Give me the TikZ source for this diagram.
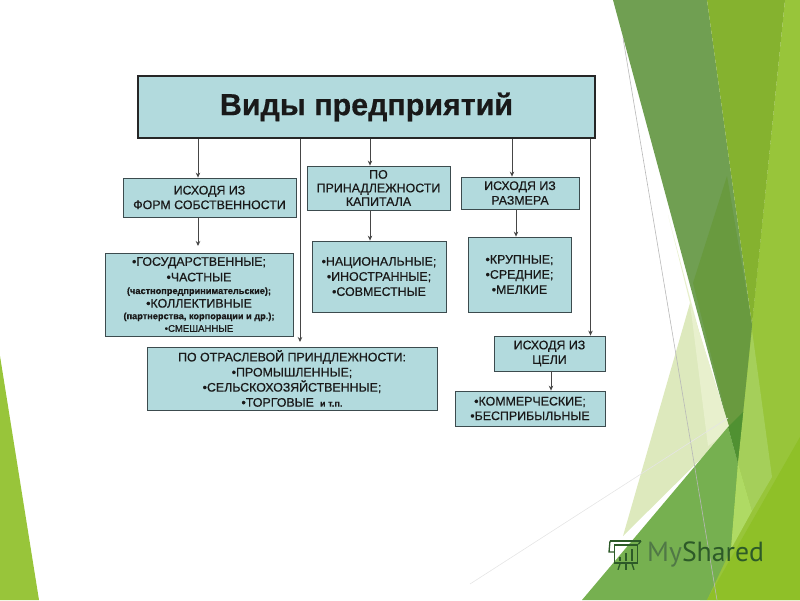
\documentclass[tikz,border=0pt]{standalone}
\usepackage{fontspec}
\setmainfont[AutoFakeBold=0.7]{Liberation Sans}
\newfontfamily\brandfont{PT Sans}
\newfontfamily\heavyfont[FakeBold=0.5]{Liberation Sans}
\usetikzlibrary{arrows.meta}
\definecolor{boxfill}{RGB}{178,218,221}
\definecolor{boxline}{RGB}{60,75,78}
\definecolor{arrline}{RGB}{70,70,70}
\definecolor{leafa}{RGB}{152,197,58}
\definecolor{leafb}{RGB}{133,178,47}
\definecolor{leafc}{RGB}{143,192,40}
\definecolor{leafd}{RGB}{112,159,82}
\definecolor{leafe}{RGB}{105,154,63}
\definecolor{leaff}{RGB}{221,233,189}
\definecolor{leafg}{RGB}{118,176,80}
\definecolor{leafh}{RGB}{165,207,90}
\definecolor{leafi}{RGB}{80,145,50}
\definecolor{leafj}{RGB}{232,240,205}
\definecolor{leafk}{RGB}{175,218,100}
\definecolor{brandlight}{RGB}{80,120,70}
\definecolor{branddark}{RGB}{45,90,40}
\tikzset{
  infobox/.style={draw=boxline, line width=0.8pt, fill=boxfill, align=center, inner sep=0pt, text=black!90,
    font=\heavyfont\fontsize{12.4}{14.6}\selectfont},
  arr/.style={draw=arrline, line width=0.9pt, -{Stealth[length=5pt,width=4.5pt]}},
  logoline/.style={draw=branddark, line width=1.3pt}
}
\newcommand{\smalltextfont}{\fontsize{9.2}{10}\selectfont\bfseries}
\begin{document}
\begin{tikzpicture}[x=1pt,y=-1pt]
    \useasboundingbox (0,0) rectangle (800,600);
    \clip (0,0) rectangle (800,600);

    % Фон
    \fill[leafa] (0,356) -- (39,600) -- (0,600) -- cycle;
    \fill[leafa] (785,0) -- (800,0) -- (800,600) -- (700,600) -- (729,548) -- cycle;
    \fill[leafj] (668,215) -- (712,380) -- (708,446) -- (690,303) -- cycle;
    \fill[leafd] (613,0) -- (707,0) -- (752,325) -- (738,463) -- cycle;
    \fill[leafb] (707,0) -- (785,0) -- (752,325) -- cycle;
    \fill[leafe] (727,176) -- (752,325) -- (738,463) -- (693,283) -- cycle;
    \fill[leaff] (690,303) -- (730,430) -- (623,536) -- cycle;
    \fill[leafj] (690,303) -- (730,430) -- (708,446) -- cycle;
    \fill[leafg] (728,427) -- (738,463) -- (731,549) -- (707,600) -- (582,600) -- cycle;
    \fill[leafi] (728,427) -- (745,410) -- (738,463) -- cycle;
    \fill[leafh] (752,330) -- (772,477) -- (752,511) -- (738,463) -- cycle;
    \fill[leafk] (738,463) -- (752,511) -- (731,549) -- cycle;
    \fill[leafc] (800,437) -- (800,600) -- (707,600) -- cycle;
    \draw[black!28, line width=0.6pt] (623,38) -- (717,600);
    \draw[black!10, line width=0.6pt] (470,584) -- (728,418);

    % Блоки
    \node[infobox, minimum width=457, minimum height=62, line width=1.8pt, draw=black!85] (title) at (366.5,107)
        {\raisebox{-2pt}{\fontsize{30.4}{32}\selectfont\bfseries Виды предприятий}};
    \node[infobox, minimum width=173, minimum height=39] (form) at (209.5,197.5) {ИСХОДЯ ИЗ\\ФОРМ СОБСТВЕННОСТИ};
    \node[infobox, minimum width=143, minimum height=44] (capital) at (378.5,188) {ПО\\[-1pt]ПРИНАДЛЕЖНОСТИ\\[-1pt]КАПИТАЛА};
    \node[infobox, minimum width=118, minimum height=32] (size) at (520,193) {ИСХОДЯ ИЗ\\РАЗМЕРА};
    \node[infobox, minimum width=188, minimum height=83] (formlist) at (199,294.5)
        {•ГОСУДАРСТВЕННЫЕ;\\[1pt]•ЧАСТНЫЕ\\[-2pt]{\smalltextfont (частнопредпринимательские);}\\[-1pt]•КОЛЛЕКТИВНЫЕ\\[-3pt]{\smalltextfont (партнерства, корпорации и др.);}\\[-2pt]{\fontsize{9.6}{11}\selectfont •СМЕШАННЫЕ}};
    \node[infobox, minimum width=134, minimum height=71] (capitallist) at (379,276.5)
        {•НАЦИОНАЛЬНЫЕ;\\[.5pt]•ИНОСТРАННЫЕ;\\[.5pt]•СОВМЕСТНЫЕ};
    \node[infobox, minimum width=103, minimum height=75] (sizelist) at (519.5,274.5)
        {•КРУПНЫЕ;\\[.5pt]•СРЕДНИЕ;\\[.5pt]•МЕЛКИЕ};
    \node[infobox, minimum width=290, minimum height=63] (branch) at (292,378.5)
        {ПО ОТРАСЛЕВОЙ ПРИНДЛЕЖНОСТИ:\\[.5pt]•ПРОМЫШЛЕННЫЕ;\\[.5pt]•СЕЛЬСКОХОЗЯЙСТВЕННЫЕ;\\[.5pt]•ТОРГОВЫЕ {\smalltextfont\ и т.п.}};
    \node[infobox, minimum width=111, minimum height=35] (goal) at (549.5,353.5) {ИСХОДЯ ИЗ\\ЦЕЛИ};
    \node[infobox, minimum width=150, minimum height=35] (goallist) at (530,408.5) {•КОММЕРЧЕСКИЕ;\\•БЕСПРИБЫЛЬНЫЕ};

    % Стрелки
    \coordinate (xform) at (198,0);
    \coordinate (xbranch) at (300,0);
    \coordinate (xcap) at (370,0);
    \coordinate (xsize) at (512,0);
    \coordinate (xsizelist) at (516,0);
    \coordinate (xgoal) at (590.5,0);
    \coordinate (xgoallist) at (551,0);
    \coordinate (formend) at (198,246);
    \coordinate (branchend) at (300,342);
    \draw[arr] (title.south -| xform) -- (form.north -| xform);
    \draw[arr] (form.south -| xform) -- (formend);
    \draw[arr] (title.south -| xbranch) -- (branchend);
    \draw[arr] (title.south -| xcap) -- (capital.north -| xcap);
    \draw[arr] (capital.south -| xcap) -- (capitallist.north -| xcap);
    \draw[arr] (title.south -| xsize) -- (size.north -| xsize);
    \draw[arr] (size.south -| xsizelist) -- (sizelist.north -| xsizelist);
    \draw[arr] (title.south -| xgoal) -- (goal.north -| xgoal);
    \draw[arr] (goal.south -| xgoallist) -- (goallist.north -| xgoallist);

    % Логотип
    \node[font=\brandfont\fontsize{27.7}{30}\selectfont, anchor=west, inner sep=0pt] (brand) at (647,554)
        {\textcolor{brandlight}{My}\textcolor{branddark}{Shared}};
    \node[draw=branddark, line width=1.5pt, minimum width=23, minimum height=18, inner sep=0pt] (logo) at (626,554) {};
    \draw[logoline] (610,541) -- (641,541);
    \draw[logoline] (610,541) -- (609,552) -- (614,552);
    \draw[logoline] (logo.north east) -- (641,541);
    \draw[logoline, line width=2.6pt] (620,561) -- (620,557);
    \draw[logoline, line width=2.6pt] (626,561) -- (626,553);
    \draw[logoline, line width=2.6pt] (632,561) -- (632,549);
    \draw[logoline] (logo.south) -- ++(0,6);
    \draw[logoline] (logo.south) ++(-6,0) -- ++(-2,6);
    \draw[logoline] (logo.south) ++(6,0) -- ++(2,6);
\end{tikzpicture}
\end{document}
